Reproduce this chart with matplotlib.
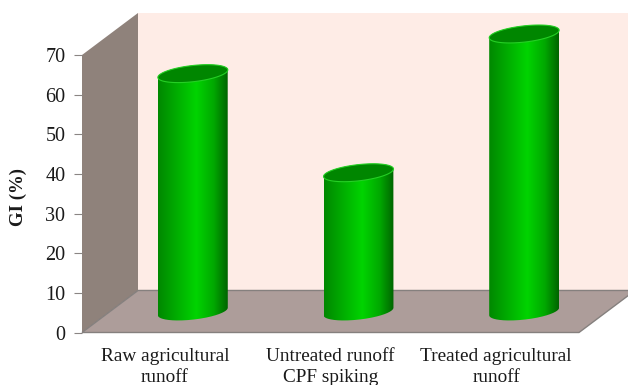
import numpy as np
import matplotlib
matplotlib.use('Agg')
import matplotlib.pyplot as plt
from matplotlib.colors import LinearSegmentedColormap
from matplotlib.patches import Polygon, PathPatch
from matplotlib.path import Path

plt.rcParams['font.family'] = ['Liberation Serif', 'DejaVu Serif']

# data
categories = ['Raw agricultural\nrunoff', 'Untreated runoff\nCPF spiking', 'Treated agricultural\nrunoff']
gi_values = [60, 35, 70]
y_ticks = [0, 10, 20, 30, 40, 50, 60, 70]

# oblique projection: how far the back wall sits from the front plane (data units)
DEPTH_X = 0.338
DEPTH_Y = 10.6
HALF_W = 0.211    # cylinder radius along x
ELL_B = 2.05      # ellipse half height
ELL_TILT = 0.95   # right side of the ellipse sits higher

fig = plt.figure(figsize=(6.28, 3.85), dpi=100)
ax = fig.add_axes([82 / 628, (385 - 332.5) / 385, 497 / 628, 277.5 / 385])
ax.patch.set_visible(False)

x0, x1 = -0.5, 2.5
y0, y1 = 0, 70

# back wall, side wall, floor
ax.add_patch(Polygon([(x0 + DEPTH_X, y0 + DEPTH_Y), (x1 + DEPTH_X, y0 + DEPTH_Y),
                      (x1 + DEPTH_X, y1 + DEPTH_Y), (x0 + DEPTH_X, y1 + DEPTH_Y)],
                     fc='#feece6', ec='none', clip_on=False, zorder=1))
ax.add_patch(Polygon([(x0, y0), (x0 + DEPTH_X, y0 + DEPTH_Y),
                      (x0 + DEPTH_X, y1 + DEPTH_Y), (x0, y1)],
                     fc='#8f827b', ec='none', clip_on=False, zorder=1.5))
ax.add_patch(Polygon([(x0, y0), (x1, y0), (x1 + DEPTH_X, y0 + DEPTH_Y), (x0 + DEPTH_X, y0 + DEPTH_Y)],
                     fc='#ad9d9a', ec='#85807e', lw=1.0, clip_on=False, zorder=2))

# shading across a cylinder, dark edges with a bright stripe near the middle
shade = LinearSegmentedColormap.from_list('cyl', [
    (0.0, '#008800'), (0.2, '#00a400'), (0.55, '#00d400'), (0.8, '#00a800'), (1.0, '#006400')])
grad = np.linspace(0, 1, 256).reshape(1, -1)

theta = np.linspace(0, 2 * np.pi, 181)

for i, val in enumerate(gi_values):
    cx = i + DEPTH_X / 2
    base = DEPTH_Y / 2
    top = val + base

    # lower half of the base joined to the upper half of the top
    low = theta[90:181]
    up = theta[0:91]
    xs = np.r_[cx + HALF_W * np.cos(low), cx + HALF_W * np.cos(up)]
    ys = np.r_[base + ELL_B * np.sin(low) + ELL_TILT * np.cos(low),
               top + ELL_B * np.sin(up) + ELL_TILT * np.cos(up)]
    body = PathPatch(Path(np.c_[xs, ys]), fc='none', ec='none', zorder=3, clip_on=False)
    ax.add_patch(body)
    im = ax.imshow(grad, cmap=shade, vmin=0, vmax=1, aspect='auto', zorder=3,
                   extent=[cx - HALF_W, cx + HALF_W, base - 5, top + 5])
    im.set_clip_box(fig.bbox)
    im.set_clip_path(body)

    # open top of the cylinder
    ax.add_patch(Polygon(np.c_[cx + HALF_W * np.cos(theta),
                               top + ELL_B * np.sin(theta) + ELL_TILT * np.cos(theta)],
                         fc='#008600', ec='#25cf25', lw=0.8, zorder=4, clip_on=False))

ax.set_xlim(x0, x1)
ax.set_ylim(y0, y1)

ax.set_xticks(range(len(categories)))
ax.set_xticklabels(categories, fontsize=13.9, linespacing=1.3, color='#1a1a1a')
ax.tick_params(axis='x', length=0, pad=11)
ax.set_yticks(y_ticks)
ax.tick_params(axis='y', length=6, width=0.8, color='#8a8583', labelsize=14.5,
               labelcolor='#1a1a1a', pad=6)
for side in ['top', 'right', 'bottom', 'left']:
    ax.spines[side].set_visible(False)

fig.text(18 / 628, 1 - 197 / 385, 'GI (%)', rotation=90, fontsize=13.5, fontweight='bold',
         ha='center', va='center', color='#1a1a1a')

fig.savefig('out.png', dpi=100)
